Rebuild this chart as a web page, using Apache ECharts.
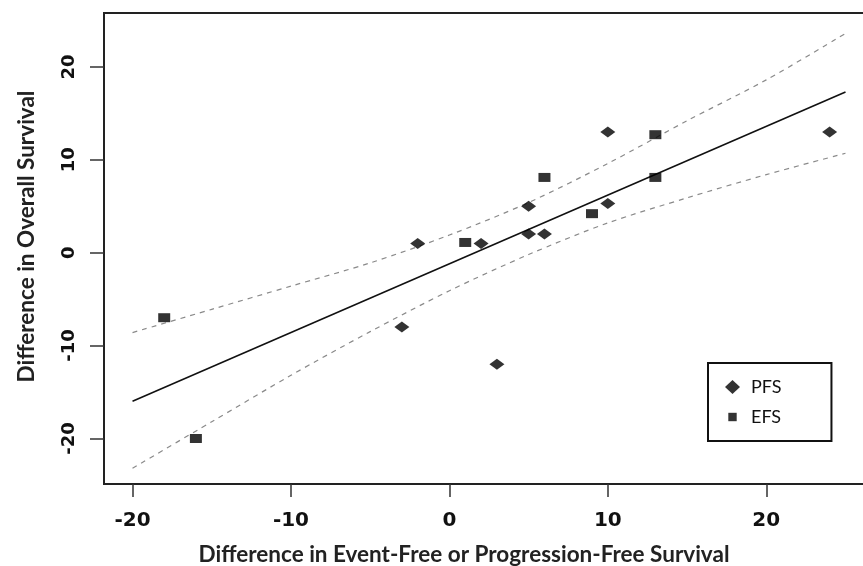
<!DOCTYPE html>
<html>
  <head>
    <meta charset="utf-8">
    <title></title>
    <style media="screen">
    html, body {margin:0; padding:0; background:#fff;}
    .box {width:863px; height:566px; overflow:hidden;}
    </style>
    <script src="https://cdn.jsdelivr.net/npm/echarts@6/dist/echarts.min.js" charset="utf-8"></script>
    <script>
    // PFS trials (diamonds)
    const pfsX=[10, 24, 5, 10, -2, 2, 5, 6, -3, 3];
    const pfsY=[13, 13, 5, 5.3, 1, 1, 2, 2, -8, -12];
    // EFS trials (squares)
    const efsX=[13, 6, 13, 9, 1, -18, -16];
    const efsY=[12.7, 8.1, 8.1, 4.2, 1.1, -7, -20];
    // regression line and its band
    const fitX=[-20, 25];
    const fitY=[-16, 17.3];
    const bandX=[-20, -15, -10, -5, 0, 5, 10, 15, 20, 25];
    const upperY=[-8.6, -6.1, -3.6, -1.1, 1.9, 5.4, 9.6, 14.2, 18.6, 23.6];
    const lowerY=[-23.2, -18.2, -13.2, -8.5, -4.1, -0.2, 3.2, 5.9, 8.4, 10.7];
    const xTicks=[-20, -10, 0, 10, 20];
    const yTicks=[-20, -10, 0, 10, 20];

    const zip=(xs, ys)=>xs.map((x, i)=>[x, ys[i]]);

    window.onload=function (){
      let chart=echarts.init(document.querySelector('.box'), null, {renderer: 'canvas'});

      let tickFont={fontFamily: 'DejaVu Sans', fontWeight: 'bold', color: '#111'};
      let nameFont={fontFamily: 'Lato', fontWeight: 'bold', fontSize: 22.5, color: '#222'};

      let option={
        animation: false,
        backgroundColor: '#fff',
        grid: {
          left: 104, top: 13, right: -11, bottom: 82,
          outerBoundsMode: 'none',
          show: true, borderColor: '#222', borderWidth: 2
        },
        legend: {
          data: [
            {name: 'PFS', icon: 'diamond'},
            // small square centred in the icon box
            {name: 'EFS', icon: 'path://M0,0M3,3h9v9h-9zM15,15'}
          ],
          orient: 'vertical',
          left: 708, top: 363,
          padding: [15, 50, 15, 17],
          itemGap: 12,
          itemWidth: 15, itemHeight: 14,
          borderColor: '#111', borderWidth: 2,
          textStyle: {fontFamily: 'Lato', fontSize: 18, color: '#111', padding: [0, 0, 0, 6]}
        },
        xAxis: {
          type: 'value',
          min: -21.8, max: 26.8,
          name: 'Difference in Event-Free or Progression-Free Survival',
          nameLocation: 'middle',
          nameGap: 59,
          nameTextStyle: Object.assign({padding: [0, 50, 0, 0]}, nameFont),
          axisLine: {show: false, onZero: false},
          axisTick: {show: true, length: 13, customValues: xTicks, lineStyle: {color: '#333', width: 1.5}},
          axisLabel: Object.assign({customValues: xTicks, margin: 27, fontSize: 20}, tickFont),
          splitLine: {show: false}
        },
        yAxis: {
          type: 'value',
          min: -24.9, max: 25.8,
          name: 'Difference in Overall Survival',
          nameLocation: 'middle',
          nameGap: 66,
          nameTextStyle: Object.assign({padding: [0, 0, 0, 24]}, nameFont),
          axisLine: {show: false, onZero: false},
          axisTick: {show: true, length: 14, customValues: yTicks, lineStyle: {color: '#333', width: 1.5}},
          axisLabel: Object.assign({customValues: yTicks, rotate: 90, margin: 26, fontSize: 18}, tickFont),
          splitLine: {show: false}
        },
        series: [
          {
            name: 'upper',
            type: 'line',
            data: zip(bandX, upperY),
            smooth: 0.3,
            symbol: 'none',
            lineStyle: {color: '#8a8a8a', width: 1.2, type: [5, 5]},
            z: 1
          },
          {
            name: 'lower',
            type: 'line',
            data: zip(bandX, lowerY),
            smooth: 0.3,
            symbol: 'none',
            lineStyle: {color: '#8a8a8a', width: 1.2, type: [5, 5]},
            z: 1
          },
          {
            name: 'fit',
            type: 'line',
            data: zip(fitX, fitY),
            symbol: 'none',
            lineStyle: {color: '#111', width: 1.6},
            z: 2
          },
          {
            name: 'PFS',
            type: 'scatter',
            data: zip(pfsX, pfsY),
            symbol: 'diamond',
            symbolSize: [15, 11],
            itemStyle: {color: '#000'},
            z: 3
          },
          {
            name: 'EFS',
            type: 'scatter',
            data: zip(efsX, efsY),
            symbol: 'rect',
            symbolSize: [12, 9],
            itemStyle: {color: '#000'},
            z: 3
          }
        ]
      };

      chart.setOption(option);
    };
    </script>
  </head>
  <body>
    <div class="box"></div>
  </body>
</html>
